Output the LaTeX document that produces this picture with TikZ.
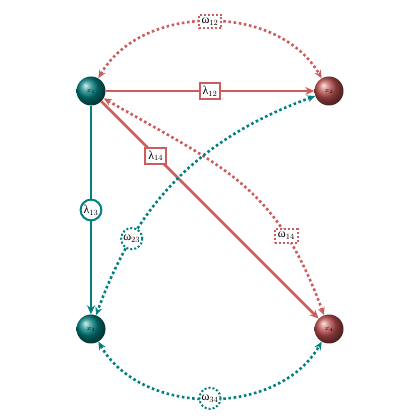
\documentclass[tikz,border=0pt]{standalone}
\usepackage{fontspec}
\newfontfamily\grk{Liberation Serif}
\usetikzlibrary{arrows.meta,shapes.geometric}
\definecolor{tl}{RGB}{0,128,128}
\definecolor{rd}{RGB}{205,92,92}
\definecolor{rdball}{RGB}{188,78,78}
\definecolor{tlball}{RGB}{0,128,128}
\newcommand{\glab}[2]{{\grk #1}$_{#2}$}
\begin{document}
\begin{tikzpicture}[x=1pt,y=1pt,
  ballt/.style={circle,minimum size=29pt,inner sep=0pt,ball color=tlball,font=\scriptsize,text=black},
  ballr/.style={circle,minimum size=29pt,inner sep=0pt,ball color=rdball,font=\scriptsize,text=black},
  lam/.style={line width=2.6pt,-{Stealth[length=9pt,width=8pt]}},
  om/.style={line width=2.6pt,dash pattern=on 2.6pt off 2.6pt,
    {Stealth[length=8pt,width=7pt]}-{Stealth[length=8pt,width=7pt]}},
  lboxr/.style={draw=rd,fill=white,solid,line width=2pt,rectangle,inner sep=3pt,font=\large,text=black},
  lcirct/.style={draw=tl,fill=white,solid,line width=2pt,circle,inner sep=1pt,font=\large,text=black},
  oboxr/.style={draw=rd,fill=white,line width=2pt,dash pattern=on 2pt off 2pt,rectangle,inner sep=3pt,font=\large,text=black},
  ocirct/.style={draw=tl,fill=white,line width=2pt,dash pattern=on 2pt off 2pt,circle,inner sep=1pt,font=\large,text=black}
]
\useasboundingbox (0,0) rectangle (420,420);
\node[ballt] (x1) at (91,329) {$x_1$};
\node[ballr] (x2) at (329,329) {$x_2$};
\node[ballt] (x3) at (91,91) {$x_3$};
\node[ballr] (x4) at (329,91) {$x_4$};

% lambda edges
\draw[lam,draw=rd] (x1) -- node[lboxr] (l12) {\glab{λ}{12}} (x2);
\draw[lam,draw=rd] (x1) -- node[lboxr,pos=0.25] (l14) {\glab{λ}{14}} (x4);
\draw[lam,draw=tl] (x1) -- node[lcirct] (l13) {\glab{λ}{13}} (x3);

% omega edges
\draw[om,draw=rd] (x1) to[out=60,in=120,looseness=1] node[oboxr] (o12) {\glab{ω}{12}} (x2);
\draw[om,draw=rd] (x1) to[out=-30,in=110,looseness=1.15] node[oboxr,pos=0.75] (o14) {\glab{ω}{14}} (x4);
\draw[om,draw=tl] (x2) to[out=200,in=70,looseness=1] node[ocirct,pos=0.75] (o23) {\glab{ω}{23}} (x3);
\draw[om,draw=tl] (x3) to[out=-60,in=-120,looseness=1] node[ocirct] (o34) {\glab{ω}{34}} (x4);
\end{tikzpicture}
\end{document}
